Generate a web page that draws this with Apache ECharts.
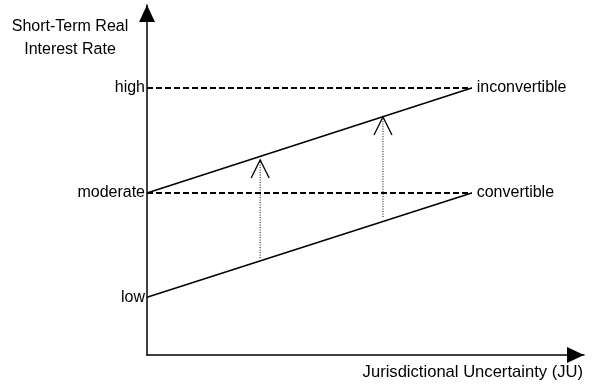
<!DOCTYPE html>
<html>
<head>
<meta charset="utf-8">
<script src="https://cdn.jsdelivr.net/npm/echarts@6/dist/echarts.min.js"></script>
<style>
html, body { margin: 0; padding: 0; background: #fff; }
#chart { width: 596px; height: 385px; }
</style>
</head>
<body>
<div id="chart"></div>
<script>
// rate levels on the y axis (axis runs 0..10)
var levelNames = ['low', 'moderate', 'high'];
var levelValues = [1.65, 4.63, 7.63];
// JU where the schedules end
var xStart = 0;
var xEnd = 7.43;
// schedules: [name, start level, end level]
var lineNames = ['convertible', 'inconvertible'];
var lineStart = [1.65, 4.63];
var lineEnd = [4.63, 7.63];
// dotted shift arrows: x, from y, to y
var arrowX = [2.59, 5.40];
var arrowFrom = [2.77, 3.94];
var arrowTo = [5.57, 6.80];

var font = 'Liberation Sans, Arial, sans-serif';
var fs = 16;
var chart = echarts.init(document.getElementById('chart'));

var series = [];
// dashed reference levels (moderate / high) with end labels
lineNames.forEach(function (name, i) {
	series.push({
		name: name,
		type: 'line',
		data: [[xStart, lineEnd[i]], [xEnd, lineEnd[i]]],
		showSymbol: false,
		lineStyle: { color: '#000', width: 2, type: [6, 3] },
		endLabel: {
			show: true,
			formatter: '{a}',
			distance: 5,
			color: '#000',
			fontSize: fs,
			fontFamily: font
		}
	});
	// solid upward sloping line
	series.push({
		type: 'line',
		data: [[xStart, lineStart[i]], [xEnd, lineEnd[i]]],
		showSymbol: false,
		lineStyle: { color: '#000', width: 1.5 }
	});
});
// dotted arrows
arrowX.forEach(function (x, i) {
	series.push({
		type: 'line',
		symbol: 'none',
		data: [
			[x, arrowFrom[i]],
			{
				value: [x, arrowTo[i]],
				symbol: 'path://M0,18 L9,0 L18,18',
				symbolSize: [18, 18],
				symbolOffset: [0, '50%'],
				itemStyle: { color: 'none', borderColor: '#000', borderWidth: 1.3 }
			}
		],
		lineStyle: { color: '#000', width: 1, type: [1, 1.5] }
	});
});

var axisLine = {
	show: true,
	lineStyle: { color: '#000', width: 1.5 },
	symbol: ['none', 'triangle'],
	symbolSize: [16, 17],
	symbolOffset: [0, -8.5]
};

var option = {
	animation: false,
	grid: { left: 147, right: 12, top: 5, bottom: 30 },
	xAxis: {
		type: 'value',
		min: 0,
		max: 10,
		name: 'Jurisdictional Uncertainty (JU)',
		nameLocation: 'end',
		nameGap: -1,
		nameTextStyle: {
			color: '#000', fontSize: 16.6, fontFamily: font,
			align: 'right', verticalAlign: 'top', padding: [9, 0, 0, 0]
		},
		axisLine: axisLine,
		axisTick: { show: false },
		axisLabel: { show: false },
		splitLine: { show: false }
	},
	yAxis: {
		type: 'value',
		min: 0,
		max: 10,
		axisLine: axisLine,
		axisTick: { show: false },
		splitLine: { show: false },
		axisLabel: {
			customValues: levelValues,
			formatter: function (v) {
				var k = levelValues.indexOf(v);
				return k >= 0 ? levelNames[k] : '';
			},
			margin: 2,
			color: '#000',
			fontSize: fs,
			fontFamily: font
		}
	},
	graphic: [{
		type: 'text',
		x: 70,
		y: 15,
		style: {
			text: 'Short-Term Real\nInterest Rate',
			align: 'center',
			lineHeight: 23,
			fill: '#000',
			fontSize: fs,
			fontFamily: font
		}
	}],
	series: series
};
chart.setOption(option);
</script>
</body>
</html>
